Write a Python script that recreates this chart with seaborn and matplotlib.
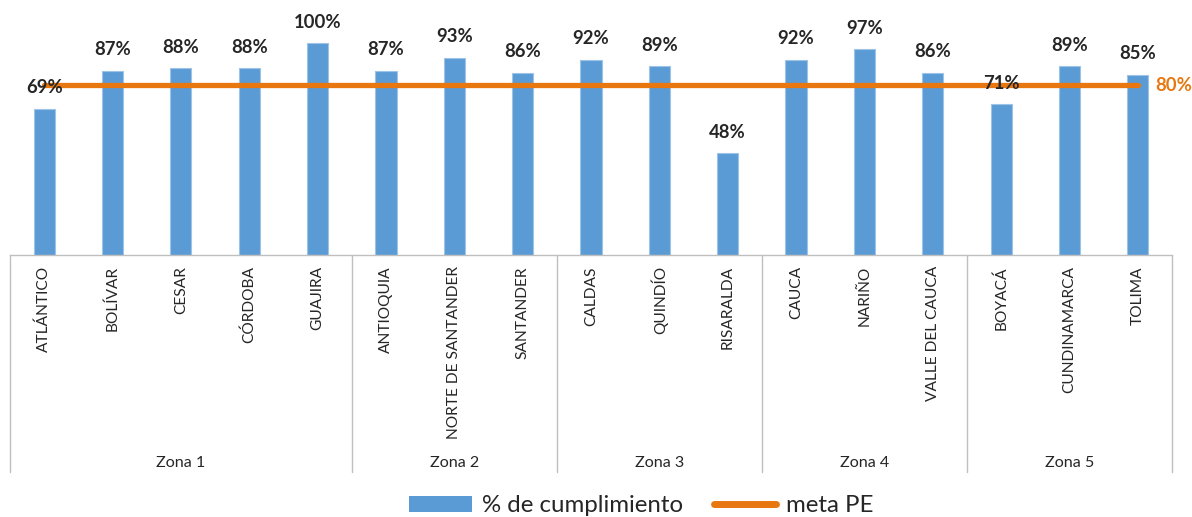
import numpy as np
import pandas as pd
import matplotlib
matplotlib.use("Agg")
import matplotlib.pyplot as plt
import matplotlib.transforms as mtransforms
from matplotlib.patches import Patch
from matplotlib.lines import Line2D
import seaborn as sns

departamentos = ["ATLÁNTICO", "BOLÍVAR", "CESAR", "CÓRDOBA", "GUAJIRA",
                 "ANTIOQUIA", "NORTE DE SANTANDER", "SANTANDER",
                 "CALDAS", "QUINDÍO", "RISARALDA",
                 "CAUCA", "NARIÑO", "VALLE DEL CAUCA",
                 "BOYACÁ", "CUNDINAMARCA", "TOLIMA"]
cumplimiento = [0.69, 0.87, 0.88, 0.88, 1.00,
                0.87, 0.93, 0.86,
                0.92, 0.89, 0.48,
                0.92, 0.97, 0.86,
                0.71, 0.89, 0.85]
zonas = ["Zona 1", "Zona 2", "Zona 3", "Zona 4", "Zona 5"]
zona_tamanos = [5, 3, 3, 3, 3]
meta_pe = 0.80

BLUE = "#5B9BD5"
ORANGE = "#E8770F"
GRID = "#BFBFBF"
TXT = "#262626"

sns.set_theme(style="white")
plt.rcParams["font.family"] = ["Lato", "DejaVu Sans"]

df = pd.DataFrame({"departamento": departamentos, "cumplimiento": cumplimiento})

fig = plt.figure(figsize=(11.92, 5.17), dpi=100)
W, H = 1192, 517
ax_left, ax_right, ax_bottom_px = 10, 1172, 255
ax = fig.add_axes([ax_left / W, (H - ax_bottom_px) / H, (ax_right - ax_left) / W, ax_bottom_px / H])

sns.barplot(data=df, x="departamento", y="cumplimiento", color=BLUE, width=0.31,
            saturation=1, edgecolor="#9DC3E6", linewidth=0.8, ax=ax)

n = len(departamentos)
pos = np.arange(n)
ax.plot(pos, [meta_pe] * n, color=ORANGE, lw=3.8, solid_capstyle="round", zorder=3)
ax.annotate(f"{meta_pe:.0%}", xy=(pos[-1], meta_pe), xytext=(12.5, 0), textcoords="offset points",
            ha="left", va="center", color=ORANGE, fontsize=13.3, fontweight="bold")

for x, v in zip(pos, cumplimiento):
    ax.annotate(f"{v:.0%}", xy=(x, v), xytext=(0, 9), textcoords="offset points",
                ha="center", va="bottom", color=TXT, fontsize=13.3, fontweight="bold", zorder=4)

ax.set_xlim(-0.5, n - 0.5)
ax.set_ylim(0, 255 / 212)
ax.set_yticks([])
ax.set_xlabel("")
ax.set_ylabel("")
for s in ["top", "right", "left"]:
    ax.spines[s].set_visible(False)
ax.spines["bottom"].set_color(GRID)
ax.spines["bottom"].set_linewidth(1.0)

ax.set_xticks(pos)
ax.set_xticklabels(departamentos, rotation=90, va="top", ha="center", fontsize=11.2, color=TXT)
ax.tick_params(axis="x", length=0, pad=8)

trans = mtransforms.blended_transform_factory(ax.transData, ax.transAxes)
depth = -(472 - 255) / 255
bounds = np.concatenate([[0], np.cumsum(zona_tamanos)]) - 0.5
for b in bounds:
    ax.plot([b, b], [0, depth], transform=trans, color=GRID, lw=1.0, clip_on=False)
for z, a, b in zip(zonas, bounds[:-1], bounds[1:]):
    ax.text((a + b) / 2, -(463 - 255) / 255, z, transform=trans, ha="center", va="center",
            fontsize=11.6, color=TXT)

handles = [Patch(facecolor=BLUE, edgecolor="none", label="% de cumplimiento"),
           Line2D([0], [0], color=ORANGE, lw=5, solid_capstyle="round", label="meta PE")]
fig.legend(handles=handles, loc="center", bbox_to_anchor=(641.5 / W, 11 / H), ncol=2, frameon=False,
           fontsize=17.3, handlelength=2.6, handleheight=0.6, handletextpad=0.4,
           columnspacing=1.3, labelcolor=TXT)

fig.savefig("out.png", dpi=100)
